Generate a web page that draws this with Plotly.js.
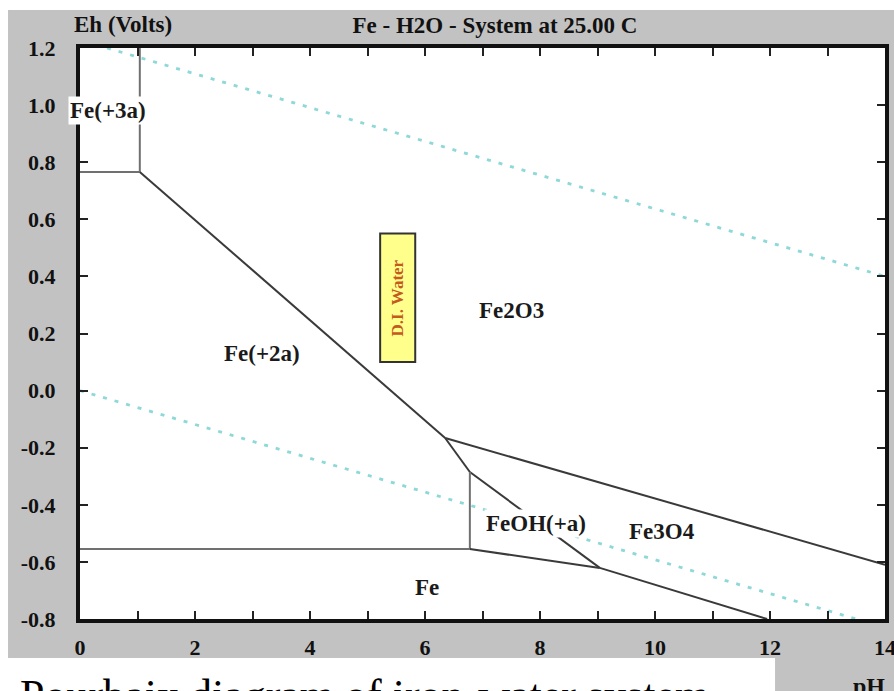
<!DOCTYPE html>
<html>
<head>
<meta charset="utf-8">
<script src="https://cdn.plot.ly/plotly-3.0.1.min.js"></script>
<style>html,body{margin:0;padding:0;background:#fff;}#chart{width:894px;height:691px;}</style>
</head>
<body>
<div id="chart"></div>
<script>
// ---- Data (pH, Eh in volts) ----
// Phase-boundary segments
const fe3Fe2_pH      = [0, 1.04];     const fe3Fe2_Eh      = [0.766, 0.766];
const fe3Fe2O3_pH    = [1.04, 1.04];  const fe3Fe2O3_Eh    = [0.766, 1.2];
const fe2Fe2O3_pH    = [1.04, 6.35];  const fe2Fe2O3_Eh    = [0.766, -0.166];
const fe2O3Fe3O4_pH  = [6.35, 14];    const fe2O3Fe3O4_Eh  = [-0.166, -0.61];
const fe2Fe3O4_pH    = [6.35, 6.78];  const fe2Fe3O4_Eh    = [-0.166, -0.285];
const feOHFe3O4_pH   = [6.78, 9.04];  const feOHFe3O4_Eh   = [-0.285, -0.621];
const fe2FeOH_pH     = [6.78, 6.78];  const fe2FeOH_Eh     = [-0.285, -0.555];
const fe2Fe_pH       = [0, 6.78];     const fe2Fe_Eh       = [-0.555, -0.555];
const feOHFe_pH      = [6.78, 9.04];  const feOHFe_Eh      = [-0.555, -0.621];
const fe3O4Fe_pH     = [9.04, 11.95]; const fe3O4Fe_Eh     = [-0.621, -0.8];
// Water stability lines
const waterUpper_pH  = [0.47, 14];    const waterUpper_Eh  = [1.2, 0.40];
const waterLower_pH  = [0, 13.5];     const waterLower_Eh  = [0, -0.8];
// Region labels
const regionNames = ["Fe(+3a)", "Fe(+2a)", "Fe2O3", "FeOH(+a)", "Fe3O4", "Fe"];
const regionPH    = [0.49, 3.17, 7.5, 7.93, 10.12, 6.03];
const regionEh    = [0.98, 0.13, 0.282, -0.464, -0.495, -0.691];
// D.I. Water marker
const diWaterPH   = [5.22, 5.83];
const diWaterEh   = [0.10, 0.55];
const diWaterText = "D.I. Water";
// Axis ticks
const xTickVals = [0, 2, 4, 6, 8, 10, 12, 14];
const xTickText = ["0", "2", "4", "6", "8", "10", "12", "14"];
const yTickVals = [-0.8, -0.6, -0.4, -0.2, 0.0, 0.2, 0.4, 0.6, 0.8, 1.0, 1.2];
const yTickText = ["-0.8", "-0.6", "-0.4", "-0.2", "0.0", "0.2", "0.4", "0.6", "0.8", "1.0", "1.2"];

// ---- Build ----
const SERIF = "Liberation Serif, Times New Roman, serif";
const solid = {color: "#3a3a3a", width: 2};
const light = {color: "#707070", width: 2};
const water = {color: "#8ed8d8", width: 2.8, dash: "4px,8px"};

function seg(x, y, line) {
  return {x: x, y: y, type: "scatter", mode: "lines", line: line, hoverinfo: "skip", showlegend: false};
}
const traces = [
  seg(waterUpper_pH, waterUpper_Eh, water),
  seg(waterLower_pH, waterLower_Eh, water),
  seg(fe3Fe2_pH, fe3Fe2_Eh, light),
  seg(fe3Fe2O3_pH, fe3Fe2O3_Eh, light),
  seg(fe2Fe2O3_pH, fe2Fe2O3_Eh, solid),
  seg(fe2O3Fe3O4_pH, fe2O3Fe3O4_Eh, solid),
  seg(fe2Fe3O4_pH, fe2Fe3O4_Eh, solid),
  seg(feOHFe3O4_pH, feOHFe3O4_Eh, solid),
  seg(fe2FeOH_pH, fe2FeOH_Eh, light),
  seg(fe2Fe_pH, fe2Fe_Eh, light),
  seg(feOHFe_pH, feOHFe_Eh, solid),
  seg(fe3O4Fe_pH, fe3O4Fe_Eh, solid)
];

const annotations = regionNames.map((t, i) => ({
  x: regionPH[i], y: regionEh[i], xref: "x", yref: "y", text: t, showarrow: false,
  font: {family: SERIF, size: 23, color: "#1a1a1a", weight: "bold"},
  bgcolor: "#ffffff", borderpad: 1
}));
annotations.push({
  x: (diWaterPH[0] + diWaterPH[1]) / 2, y: (diWaterEh[0] + diWaterEh[1]) / 2, xref: "x", yref: "y",
  text: diWaterText, textangle: -90, showarrow: false,
  font: {family: SERIF, size: 17, color: "#c45a1c", weight: "bold"}
});
annotations.push({
  x: -0.0099, y: 1.0403, xref: "paper", yref: "paper", xanchor: "left", yanchor: "middle",
  text: "Eh (Volts)", showarrow: false,
  font: {family: SERIF, size: 23, color: "#111", weight: "bold"}
});
annotations.push({
  x: 0.980, y: -0.091, xref: "paper", yref: "paper", xanchor: "center", yanchor: "top",
  text: "pH", showarrow: false,
  font: {family: SERIF, size: 24, color: "#111", weight: "bold"}
});
annotations.push({
  x: -0.077, y: -0.0876, xref: "paper", yref: "paper", xanchor: "left", yanchor: "top",
  text: "Pourbaix diagram of iron-water system", showarrow: false,
  font: {family: SERIF, size: 44, color: "#000"}
});

const shapes = [
  {type: "rect", xref: "paper", yref: "paper", x0: -0.0894, x1: 1.02, y0: -0.0683, y1: 1.0666,
   fillcolor: "#c2c2c2", line: {width: 0}, layer: "below"},
  {type: "rect", xref: "paper", yref: "paper", x0: 0.8634, x1: 1.02, y0: -0.2, y1: -0.0683,
   fillcolor: "#c2c2c2", line: {width: 0}, layer: "below"},
  {type: "rect", xref: "paper", yref: "paper", x0: 0, x1: 1, y0: 0, y1: 1,
   fillcolor: "#ffffff", line: {width: 0}, layer: "below"},
  {type: "rect", xref: "x", yref: "y", x0: diWaterPH[0], x1: diWaterPH[1], y0: diWaterEh[0], y1: diWaterEh[1],
   fillcolor: "#ffff8c", line: {color: "#333", width: 2}, layer: "above"}
];

const axisCommon = {
  showgrid: false, zeroline: false, showline: true, linecolor: "#111", linewidth: 4, mirror: "allticks",
  ticks: "inside", ticklen: 8, tickwidth: 2, tickcolor: "#222", ticklabeloverflow: "allow",
  tickfont: {family: SERIF, size: 22, color: "#111", weight: "bold"}, fixedrange: true
};

const layout = {
  width: 894, height: 691,
  margin: {l: 80, r: 9, t: 48, b: 72},
  paper_bgcolor: "#ffffff", plot_bgcolor: "rgba(0,0,0,0)",
  title: {text: "Fe - H2O - System at 25.00 C", x: 0.5537, y: 0.9638, xref: "container", yref: "container",
          xanchor: "center", yanchor: "middle",
          font: {family: SERIF, size: 23, color: "#111", weight: "bold"}},
  xaxis: Object.assign({}, axisCommon, {
    range: [0, 14], tickmode: "array", tickvals: xTickVals, ticktext: xTickText, ticklabelstandoff: 6,
    minor: {dtick: 1, ticks: "inside", ticklen: 8, tickwidth: 2, tickcolor: "#222"}
  }),
  yaxis: Object.assign({}, axisCommon, {
    range: [-0.8, 1.2], tickmode: "array", tickvals: yTickVals, ticktext: yTickText, ticklabelstandoff: 16
  }),
  annotations: annotations,
  shapes: shapes,
  showlegend: false
};

Plotly.newPlot("chart", traces, layout, {staticPlot: true, displayModeBar: false});
</script>
</body>
</html>
